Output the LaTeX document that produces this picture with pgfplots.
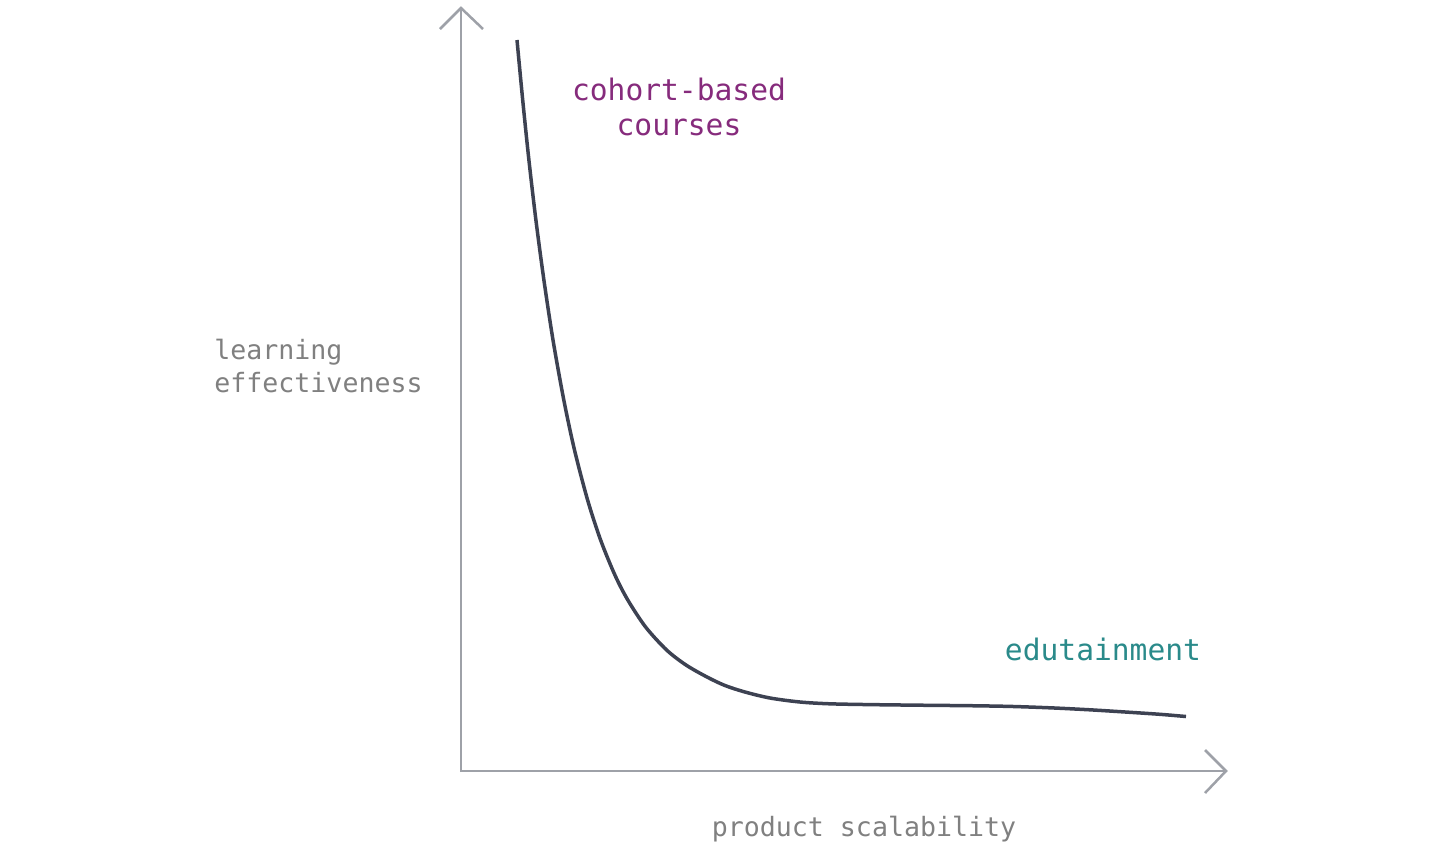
\documentclass[border=0pt]{standalone}
\usepackage{pgfplots}
\pgfplotsset{compat=1.18}
\usepackage{fontspec}
\setmainfont{DejaVu Sans Mono}
\definecolor{axisgray}{HTML}{9EA1A8}
\definecolor{curvecol}{HTML}{3D4252}
\definecolor{cohortcol}{HTML}{862B7C}
\definecolor{edutcol}{HTML}{2A8A8A}
\definecolor{labelgray}{HTML}{808080}
\begin{document}
\begin{tikzpicture}
\begin{axis}[
  scale only axis, width=720pt, height=426.5pt,
  xmin=0, xmax=1440, ymin=0, ymax=853, y dir=reverse,
  hide axis, clip=false,
]
\path (axis cs:0,0) rectangle (axis cs:1440,853);
% axes
\addplot[axisgray, line width=1.25pt, line cap=butt] coordinates {(461,772) (461,9)};
\addplot[axisgray, line width=1.25pt, line cap=butt] coordinates {(460,771) (1225,771)};
\addplot[axisgray, line width=1.25pt, line join=miter] coordinates {(440,29) (461,8) (483,29)};
\addplot[axisgray, line width=1.25pt, line join=miter] coordinates {(1205,750) (1226,771) (1205,793)};
% curve
\addplot[curvecol, line width=1.75pt, smooth, tension=0.5] coordinates {
(517,40) (522.7,100) (528.9,160) (535.9,220) (543.9,280) (553,340)
(563.8,400) (574.5,450) (587.6,500) (600.6,540) (614.9,575) (627.8,600)
(645.6,627) (666.6,650) (686,665) (707,677) (725,685.5) (745,692)
(770,698) (800,702) (830,703.8) (870,704.6) (920,705.2) (970,705.7)
(1010,706.4) (1050,707.8) (1090,709.8) (1130,712.3) (1160,714.3) (1186,716.5)
};
% texts
\node[anchor=base, inner sep=0, text=cohortcol, font=\fontsize{14.8pt}{17pt}\selectfont] at (axis cs:679,100) {cohort-based};
\node[anchor=base, inner sep=0, text=cohortcol, font=\fontsize{14.8pt}{17pt}\selectfont] at (axis cs:679,135) {courses};
\node[anchor=base, inner sep=0, text=edutcol, font=\fontsize{14.8pt}{17pt}\selectfont] at (axis cs:1103,660) {edutainment};
\node[anchor=base west, inner sep=0, text=labelgray, font=\fontsize{13.3pt}{16pt}\selectfont] at (axis cs:214,359) {learning};
\node[anchor=base west, inner sep=0, text=labelgray, font=\fontsize{13.3pt}{16pt}\selectfont] at (axis cs:214,392) {effectiveness};
\node[anchor=base, inner sep=0, text=labelgray, font=\fontsize{13.3pt}{16pt}\selectfont] at (axis cs:864,836) {product scalability};
\end{axis}
\end{tikzpicture}
\end{document}
